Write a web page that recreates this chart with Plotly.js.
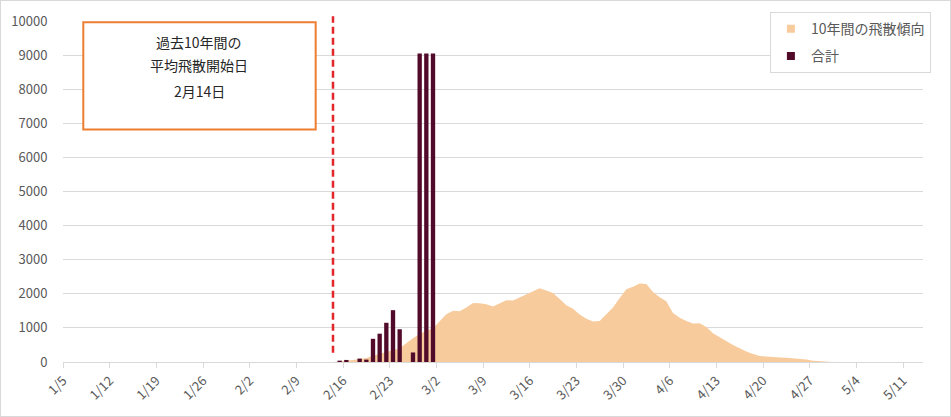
<!DOCTYPE html>
<html>
<head>
<meta charset="utf-8">
<script src="https://cdn.plot.ly/plotly-3.0.1.min.js"></script>
<style>
html,body{margin:0;padding:0;background:#fff;}
#wrap{position:relative;width:951px;height:417px;}
#chart{width:951px;height:417px;}
#frame{position:absolute;left:0;top:0;width:951px;height:417px;box-sizing:border-box;border:1px solid #D9D9D9;pointer-events:none;}
</style>
</head>
<body>
<div id="wrap"><div id="chart"></div><div id="frame"></div></div>
<script>
const YEAR = 2019;
const tickLabels = ['1/5','1/12','1/19','1/26','2/2','2/9','2/16','2/23','3/2','3/9','3/16','3/23','3/30','4/6','4/13','4/20','4/27','5/4','5/11'];
const axisStart = '1/5';
const axisEnd = '5/14';

const areaName = '10年間の飛散傾向';
const areaDates = ['2/14','2/15','2/16','2/17','2/18','2/19','2/20','2/21','2/22','2/23','2/24','2/25','2/26','2/27','2/28',
  '3/1','3/2','3/3','3/4','3/5','3/6','3/7','3/8','3/9','3/10','3/11','3/12','3/13','3/14','3/15','3/16','3/17','3/18','3/19','3/20',
  '3/21','3/22','3/23','3/24','3/25','3/26','3/27','3/28','3/29','3/30','3/31',
  '4/1','4/2','4/3','4/4','4/5','4/6','4/7','4/8','4/9','4/10','4/11','4/12','4/13','4/14','4/15','4/16','4/17','4/18','4/19','4/20',
  '4/21','4/22','4/23','4/24','4/25','4/26','4/27','4/28','4/29','4/30'];
const areaValues = [0,15,40,60,85,120,180,230,280,330,400,550,700,820,920,
  990,1190,1400,1500,1490,1600,1730,1720,1690,1630,1720,1810,1800,1890,1965,2070,2165,2100,2025,1850,
  1665,1560,1390,1270,1190,1200,1400,1600,1880,2130,2210,
  2300,2290,2050,1900,1780,1440,1300,1200,1130,1140,1030,840,720,610,495,400,305,235,175,160,
  140,132,125,110,95,70,40,20,5,0];

const barName = '合計';
const barDates = ['2/15','2/16','2/18','2/19','2/20','2/21','2/22','2/23','2/24','2/26','2/27','2/28','3/1'];
const barValues = [40,60,100,70,680,830,1150,1520,960,280,9050,9050,9050];

const startDateLabel = '2/14';
const boxLines = ['過去10年間の','平均飛散開始日','2月14日'];

const AREA_COLOR = '#F8CB9D';
const BAR_COLOR = '#520A2A';

function toDate(md, hour){
  const [m,d] = md.split('/').map(Number);
  const pad = n => String(n).padStart(2,'0');
  return `${YEAR}-${pad(m)}-${pad(d)} ${pad(hour)}:00`;
}

const FONT = 'Noto Sans CJK JP, Noto Sans, sans-serif';
const DAY = 86400000;

const traces = [
  {
    type:'scatter', mode:'lines', name: areaName, showlegend:false,
    x: areaDates.map(d=>toDate(d,12)), y: areaValues,
    fill:'tozeroy', fillcolor:AREA_COLOR, line:{width:0, color:AREA_COLOR},
    xaxis:'x', yaxis:'y', hoverinfo:'skip'
  },
  {
    type:'bar', name: barName, showlegend:false,
    x: barDates.map(d=>toDate(d,12)), y: barValues,
    width: 0.65*DAY,
    marker:{color:BAR_COLOR},
    xaxis:'x2', yaxis:'y', hoverinfo:'skip'
  },
  // legend entries (square swatches, as in the reference legend)
  {type:'scatter', mode:'markers', name:areaName, x:[null], y:[null], legendgroup:'a',
    marker:{symbol:'square', size:8, color:AREA_COLOR}, xaxis:'x', yaxis:'y', hoverinfo:'skip'},
  {type:'scatter', mode:'markers', name:barName, x:[null], y:[null], legendgroup:'b',
    marker:{symbol:'square', size:8, color:BAR_COLOR}, xaxis:'x', yaxis:'y', hoverinfo:'skip'}
];

const range = [toDate(axisStart,0), toDate(axisEnd,0)];
const layout = {
  width:951, height:417,
  margin:{l:63, r:28, t:17, b:55},
  paper_bgcolor:'#fff', plot_bgcolor:'#fff',
  font:{family:FONT, color:'#595959', size:13},
  showlegend:true,
  legend:{x:0.822, y:1.026, xanchor:'left', yanchor:'top',
    bgcolor:'#fff', bordercolor:'#D9D9D9', borderwidth:1,
    font:{family:FONT, size:14, color:'#595959'}, tracegroupgap:6, itemwidth:30},
  xaxis:{type:'date', range:range, tickmode:'array',
    tickvals: tickLabels.map(d=>toDate(d,0)), ticktext: tickLabels,
    tickangle:-45, ticks:'outside', ticklen:5, tickcolor:'#D9D9D9',
    showline:true, linecolor:'#D9D9D9', linewidth:1, showgrid:false, zeroline:false,
    tickfont:{family:FONT, size:13, color:'#595959'}, fixedrange:true},
  xaxis2:{type:'date', range:range, overlaying:'x', visible:false, fixedrange:true},
  yaxis:{range:[0,10000], dtick:1000, tickformat:'d', showgrid:true, gridcolor:'#D9D9D9', gridwidth:1,
    zeroline:false, showline:false, ticks:'outside', ticklen:12, tickcolor:'rgba(0,0,0,0)',
    tickfont:{family:FONT, size:13, color:'#595959'}, fixedrange:true},
  shapes:[
    {type:'line', xref:'x', yref:'paper', x0:toDate(startDateLabel,12), x1:toDate(startDateLabel,12),
      y0:0.027, y1:1.014, line:{color:'#E3262B', width:2.5, dash:'7px,4px'}, layer:'above'},
    {type:'rect', xref:'paper', yref:'paper', x0:0.0236, x1:0.2938, y0:0.682, y1:0.9962,
      fillcolor:'#fff', line:{color:'#ED7D31', width:2}, layer:'above'}
  ],
  annotations: boxLines.map((t,i)=>({
    xref:'paper', yref:'paper', x:0.1587, y:[0.939,0.870,0.794][i],
    text:t, showarrow:false, xanchor:'center', yanchor:'middle',
    font:{family:FONT, size:14, color:'#262626'}
  }))
};

Plotly.newPlot('chart', traces, layout, {displayModeBar:false, staticPlot:true});
</script>
</body>
</html>
